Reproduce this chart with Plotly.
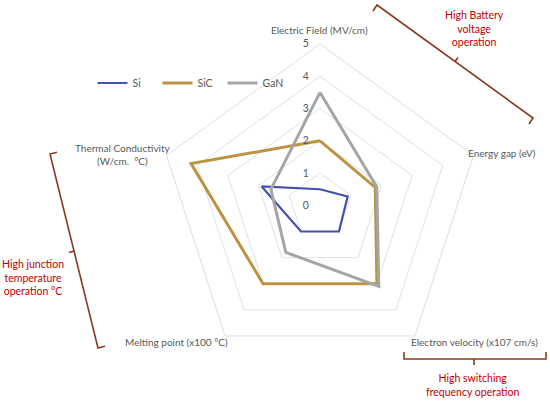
import plotly.graph_objects as go

categories = ["Electric Field (MV/cm)", "Energy gap (eV)", "Electron velocity (x107 cm/s)",
              "Melting point (x100 °C)", "Thermal Conductivity (W/cm. °C)"]
si_values = [0.5, 0.9, 1.0, 1.0, 1.9]
sic_values = [2.0, 1.8, 3.0, 3.0, 4.2]
gan_values = [3.5, 1.85, 3.1, 1.8, 1.6]
radial_ticks = [0, 1, 2, 3, 4, 5]

W, H = 550, 402
def px(x, y):
    return x / W, (H - y) / H

colors = {"Si": "#4650B0", "SiC": "#BA9443", "GaN": "#A5A5A5"}
widths = {"Si": 2.2, "SiC": 3, "GaN": 3}

fig = go.Figure()
for name, vals in [("Si", si_values), ("SiC", sic_values), ("GaN", gan_values)]:
    fig.add_trace(go.Scatterpolar(
        r=vals + vals[:1], theta=categories + categories[:1], mode="lines", name=name,
        line=dict(color=colors[name], width=widths[name]),
    ))

cx, cy, R = 320, 205.4, 161.4
fig.update_layout(
    width=W, height=H, margin=dict(l=0, r=0, t=0, b=0),
    paper_bgcolor="white", plot_bgcolor="white",
    font=dict(family="Lato", size=10, color="#595959"),
    polar=dict(
        domain=dict(x=[(cx - R) / W, (cx + R) / W], y=[(H - cy - R) / H, (H - cy + R) / H]),
        gridshape="linear", bgcolor="white",
        radialaxis=dict(range=[0, 5], tickvals=radial_ticks, angle=90, tickangle=90,
                        side="counterclockwise", showline=False, gridcolor="#E0E0E0",
                        gridwidth=1, ticks="outside", ticklen=7, tickcolor="rgba(0,0,0,0)",
                        tickfont=dict(size=10.5, color="#595959")),
        angularaxis=dict(direction="clockwise", rotation=90, showgrid=False,
                         showticklabels=False, ticks="", showline=True,
                         linecolor="#DDDDDD", linewidth=1),
    ),
    legend=dict(orientation="h", x=px(190, 0)[0], y=px(0, 83)[1], xanchor="center",
                yanchor="middle", itemwidth=30, entrywidth=20,
                font=dict(size=10.5, color="#595959"),
                bgcolor="rgba(0,0,0,0)", tracegroupgap=0),
    showlegend=True,
)

labels = [
    ("Electric Field (MV/cm)", 319, 30),
    ("Energy gap (eV)", 502, 153),
    ("Electron velocity (x107 cm/s)", 474.5, 342),
    ("Melting point (x100 °C)", 176.5, 342),
    ("Thermal Conductivity<br>(W/cm.  °C)", 123, 154.5),
]
for text, x, y in labels:
    ax, ay = px(x, y)
    fig.add_annotation(text=text, x=ax, y=ay, xref="paper", yref="paper", showarrow=False,
                       xanchor="center", yanchor="middle",
                       font=dict(size=10, color="#595959"))

red_notes = [
    ("High Battery<br>voltage<br>operation", 474, 28.5),
    ("High junction<br>temperature<br>operation °C", 33, 277.5),
    ("High switching<br>frequency operation", 473, 385),
]
for text, x, y in red_notes:
    ax, ay = px(x, y)
    fig.add_annotation(text=text, x=ax, y=ay, xref="paper", yref="paper", showarrow=False,
                       xanchor="center", yanchor="middle",
                       font=dict(size=10.5, color="#C00000"))

def path(points):
    s = ""
    for i, (x, y) in enumerate(points):
        X, Y = px(x, y)
        s += ("M" if i == 0 else "L") + f"{X:.5f},{Y:.5f} "
    return s

brown = "#8B3A1E"
brackets = [
    [(373, 11), (377, 5), (533, 118), (529, 124)],
    [(455, 61.5), (458, 57.5)],
    [(57, 152.3), (50, 154), (98, 348), (105, 346.3)],
    [(74, 251), (69, 252.5)],
    [(404, 352), (404, 359), (546, 359), (546, 352)],
    [(474, 359), (474, 365)],
]
for pts in brackets:
    fig.add_shape(type="path", path=path(pts), xref="paper", yref="paper",
                  line=dict(color=brown, width=1.6))

fig.write_html("out.html", config={"displayModeBar": False},
               post_script="document.body.style.margin='0';document.body.style.overflow='hidden';")
